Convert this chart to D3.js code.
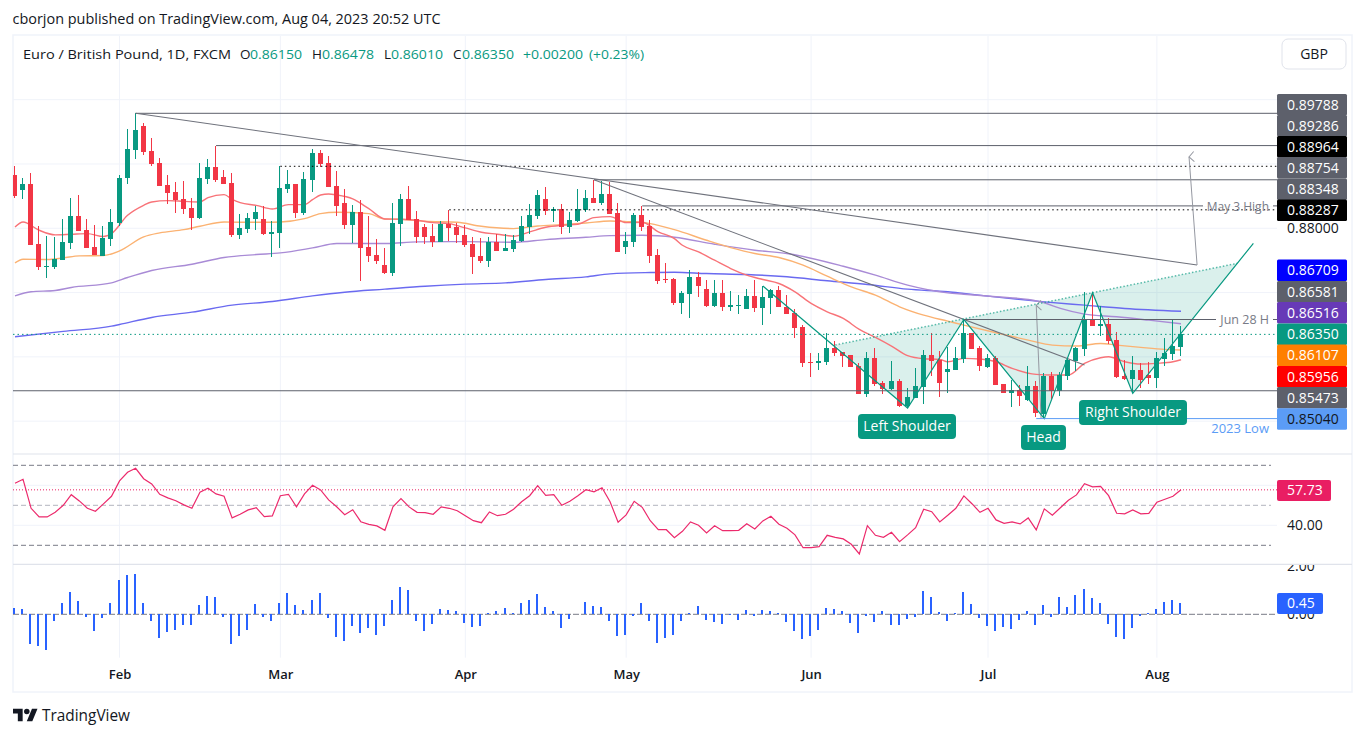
<!DOCTYPE html>
<html>
<head>
<meta charset="utf-8">
<style>
html, body { margin: 0; padding: 0; background: #fff; }
svg { display: block; }
text { font-family: "Open Sans", "Noto Sans", sans-serif; }
</style>
<script src="https://cdnjs.cloudflare.com/ajax/libs/d3/7.8.5/d3.min.js"></script>
</head>
<body>
<svg id="chart" width="1365" height="737"></svg>
<script>
// daily EUR/GBP candles
const opens = [
0.88823,0.88590,0.88683,0.87752,0.87395,0.87395,0.87503,0.87767,0.88186,0.87969,
0.87705,0.87565,0.87829,0.88078,0.88777,0.89211,0.89584,0.89196,0.89009,0.88668,
0.88559,0.88450,0.88311,0.88155,0.88761,0.88947,0.88792,0.88699,0.87891,0.87985,
0.88140,0.88140,0.87912,0.87923,0.88606,0.88683,0.88233,0.88745,0.89165,0.89009,
0.88652,0.88388,0.88047,0.88249,0.87705,0.87581,0.87426,0.87301,0.88062,0.88450,
0.88140,0.88016,0.87876,0.87783,0.88062,0.88016,0.87891,0.87752,0.87565,0.87488,
0.87783,0.87643,0.87674,0.87798,0.88016,0.88186,0.88450,0.88264,0.88295,0.88016,
0.88109,0.88280,0.88466,0.88388,0.88528,0.88233,0.87705,0.87783,0.88202,0.88031,
0.87581,0.87208,0.87208,0.86836,0.86975,0.87239,0.87053,0.86789,0.86991,0.86774,
0.86789,0.86743,0.86944,0.86758,0.86913,0.87038,0.86774,0.86680,0.86463,0.85920,
0.85904,0.85920,0.86137,0.86075,0.86028,0.85857,0.85423,0.85982,0.85594,0.85500,
0.85625,0.85236,0.85361,0.85531,0.86028,0.85951,0.85764,0.85795,0.85966,0.86364,
0.86137,0.85842,0.85981,0.85578,0.85443,0.85485,0.85329,0.85547,0.85112,0.85702,
0.85469,0.85702,0.85935,0.86121,0.86587,0.86478,0.86509,0.86261,0.85702,0.85655,
0.85795,0.85717,0.85671,0.85966,0.86044,0.86150];
const highs = [
0.88963,0.88777,0.88854,0.88031,0.87876,0.87860,0.88140,0.88466,0.88513,0.88140,
0.88047,0.88031,0.88295,0.88823,0.89537,0.89788,0.89631,0.89398,0.89087,0.88823,
0.88714,0.88730,0.88466,0.89009,0.89072,0.89286,0.88901,0.88854,0.88218,0.88233,
0.88342,0.88342,0.88109,0.88964,0.88901,0.88683,0.88870,0.89227,0.89211,0.89118,
0.88885,0.88616,0.88357,0.88435,0.88186,0.87829,0.87690,0.88388,0.88528,0.88652,
0.88264,0.88062,0.88062,0.88109,0.88287,0.88078,0.88047,0.87860,0.87845,0.87860,
0.87907,0.87907,0.87891,0.88186,0.88373,0.88590,0.88637,0.88326,0.88373,0.88249,
0.88606,0.88590,0.88754,0.88730,0.88714,0.88388,0.87938,0.88233,0.88348,0.88124,
0.87674,0.87457,0.87224,0.87022,0.87348,0.87317,0.87193,0.87193,0.87193,0.87022,
0.86960,0.87053,0.87193,0.87100,0.87053,0.87100,0.86960,0.86743,0.86494,0.86059,
0.86059,0.86370,0.86246,0.86075,0.86028,0.85904,0.86075,0.86137,0.85625,0.85935,
0.85656,0.85516,0.85826,0.86106,0.86370,0.86090,0.86157,0.86147,0.86581,0.86364,
0.86168,0.86044,0.86012,0.85578,0.85640,0.85562,0.85857,0.85624,0.85743,0.85764,
0.85764,0.85981,0.86157,0.87006,0.86991,0.86789,0.86603,0.86385,0.85950,0.86012,
0.85904,0.85919,0.86075,0.86292,0.86581,0.86478];
const lows = [
0.88471,0.88450,0.87736,0.87348,0.87224,0.87363,0.87503,0.87674,0.87954,0.87690,
0.87581,0.87565,0.87721,0.88031,0.88683,0.89072,0.89134,0.88963,0.88652,0.88373,
0.88233,0.88218,0.87969,0.88140,0.88683,0.88714,0.88683,0.87860,0.87829,0.87923,
0.87969,0.87891,0.87550,0.87690,0.88544,0.88155,0.88202,0.88559,0.88947,0.88637,
0.88192,0.87985,0.87767,0.87177,0.87472,0.87441,0.87286,0.87255,0.87721,0.88124,
0.87767,0.87752,0.87705,0.87783,0.87798,0.87767,0.87705,0.87286,0.87457,0.87394,
0.87643,0.87643,0.87627,0.87783,0.87907,0.88140,0.88202,0.88093,0.87907,0.87922,
0.88093,0.88249,0.88388,0.88357,0.88218,0.87627,0.87596,0.87705,0.87954,0.87457,
0.87131,0.87146,0.86805,0.86665,0.86603,0.86929,0.86774,0.86774,0.86712,0.86712,
0.86665,0.86743,0.86696,0.86494,0.86665,0.86774,0.86665,0.86292,0.85842,0.85687,
0.85795,0.85873,0.86013,0.85842,0.85842,0.85423,0.85376,0.85547,0.85423,0.85485,
0.85221,0.85221,0.85361,0.85267,0.85702,0.85376,0.85443,0.85795,0.85909,0.86121,
0.85780,0.85826,0.85562,0.85438,0.85221,0.85236,0.85314,0.85065,0.85040,0.85345,
0.85391,0.85640,0.85780,0.86012,0.86478,0.86323,0.86199,0.85671,0.85640,0.85453,
0.85516,0.85578,0.85516,0.85857,0.85950,0.86010];
const closes = [
0.88497,0.88683,0.87736,0.87395,0.87410,0.87519,0.87783,0.88186,0.87954,0.87690,
0.87581,0.87845,0.88093,0.88787,0.89227,0.89522,0.89180,0.88994,0.88652,0.88544,
0.88435,0.88295,0.88155,0.88777,0.88947,0.88745,0.88683,0.87891,0.88000,0.88155,
0.88249,0.87907,0.87938,0.88621,0.88683,0.88233,0.88761,0.89165,0.88994,0.88637,
0.88342,0.88047,0.88249,0.87690,0.87565,0.87488,0.87301,0.88078,0.88450,0.88124,
0.87860,0.87860,0.87783,0.88062,0.88000,0.87891,0.87736,0.87550,0.87488,0.87783,
0.87643,0.87690,0.87814,0.88031,0.88202,0.88513,0.88264,0.88295,0.88016,0.88124,
0.88295,0.88466,0.88388,0.88528,0.88218,0.87627,0.87798,0.88202,0.88016,0.87565,
0.87177,0.87193,0.86836,0.86991,0.87239,0.87100,0.86789,0.86991,0.86774,0.86805,
0.86805,0.86944,0.86758,0.86929,0.87038,0.86774,0.86665,0.86448,0.85904,0.85904,
0.85935,0.86137,0.86059,0.86013,0.85842,0.85423,0.85982,0.85578,0.85500,0.85625,
0.85236,0.85376,0.85547,0.86028,0.85935,0.85594,0.85811,0.85981,0.86364,0.86121,
0.85857,0.85981,0.85562,0.85438,0.85479,0.85391,0.85547,0.85127,0.85702,0.85469,
0.85717,0.85950,0.86137,0.86587,0.86478,0.86509,0.86245,0.85686,0.85655,0.85795,
0.85640,0.85671,0.85981,0.86059,0.86168,0.86350];

// moving averages, read at the bars listed beside them
const redBars = [0,1,3,5,7,9,11,12,14,16,17,19,21,23,24,26,27,28,30,32,34,36,37,38,39,40,42,44,46,48,50,52,54,56,58,60,62,64,66,68,70,72,74,76,78,80,82,83,85,87,89,91,93,95,97,99,101,103,105,107,109,111,113,115,116,118,120,122,124,127,129,131,133,135,136,138,140,142,144,145];
const redMa = [0.88021,0.88098,0.87969,0.87897,0.87907,0.87917,0.87871,0.87917,0.88202,0.88357,0.88409,0.88430,0.88419,0.88409,0.88476,0.88523,0.88450,0.88399,0.88357,0.88300,0.88368,0.88368,0.88445,0.88518,0.88533,0.88518,0.88456,0.88305,0.88145,0.88140,0.88124,0.88088,0.88073,0.88005,0.87938,0.87907,0.87876,0.87943,0.88016,0.88047,0.88062,0.88166,0.88181,0.88088,0.88093,0.87943,0.87840,0.87736,0.87633,0.87503,0.87374,0.87271,0.87203,0.87141,0.87012,0.86831,0.86701,0.86598,0.86427,0.86303,0.86168,0.86018,0.85971,0.85961,0.85924,0.85976,0.85966,0.85924,0.85821,0.85728,0.85717,0.85717,0.85899,0.85987,0.86002,0.85924,0.85888,0.85899,0.85924,0.85956];
const orangeBars = [0,1,4,6,8,11,13,16,18,21,23,26,28,31,33,36,38,40,44,46,48,51,55,58,62,65,68,71,74,76,79,82,86,89,92,95,98,101,104,107,110,113,116,118,122,126,129,132,135,137,140,143,145];
const orangeMa = [0.87462,0.87519,0.87514,0.87539,0.87571,0.87576,0.87648,0.87866,0.87928,0.87979,0.88031,0.88098,0.88093,0.88093,0.88098,0.88150,0.88228,0.88249,0.88228,0.88145,0.88140,0.88109,0.88093,0.88031,0.87995,0.88036,0.88057,0.88083,0.88114,0.88104,0.88073,0.87979,0.87814,0.87700,0.87607,0.87545,0.87426,0.87255,0.87089,0.86960,0.86779,0.86649,0.86556,0.86494,0.86375,0.86261,0.86183,0.86168,0.86209,0.86183,0.86147,0.86116,0.86107];
const purpleBars = [0,2,5,7,12,14,17,22,26,30,33,37,40,46,50,56,62,66,71,74,78,82,87,92,96,103,107,111,116,118,122,126,128,130,133,137,141,145];
const purpleMa = [0.86949,0.87012,0.87032,0.87079,0.87151,0.87234,0.87343,0.87441,0.87545,0.87591,0.87617,0.87695,0.87762,0.87762,0.87788,0.87793,0.87783,0.87824,0.87860,0.87886,0.87891,0.87860,0.87752,0.87659,0.87607,0.87410,0.87271,0.87115,0.86996,0.86975,0.86934,0.86892,0.86841,0.86753,0.86665,0.86623,0.86571,0.86516];
const blueBars = [0,6,12,13,17,22,27,32,37,41,46,51,56,61,66,71,74,79,82,86,91,96,101,106,111,116,118,123,128,133,138,145];
const blueMa = [0.86312,0.86396,0.86478,0.86504,0.86613,0.86695,0.86804,0.86861,0.86949,0.87006,0.87053,0.87099,0.87131,0.87151,0.87203,0.87244,0.87291,0.87312,0.87317,0.87296,0.87281,0.87245,0.87183,0.87126,0.87053,0.87012,0.86986,0.86918,0.86856,0.86804,0.86753,0.86709];

const rsi = [
61.0,63.0,48.5,44.2,44.2,46.5,50.0,55.3,52.2,48.5,47.0,50.7,54.5,62.2,66.5,68.5,63.3,60.7,55.5,53.7,
52.3,50.2,48.5,56.5,58.5,55.7,54.5,43.7,45.5,47.7,48.8,44.3,44.7,54.8,55.5,49.2,55.7,60.0,57.7,52.7,
49.3,45.3,47.8,41.8,40.5,39.7,37.5,49.2,53.3,49.2,46.5,46.3,45.5,49.2,48.5,47.3,44.8,42.3,41.3,46.7,
44.8,45.5,48.0,51.8,54.8,59.8,55.0,55.3,50.0,52.0,54.8,57.8,56.7,58.8,51.8,41.5,45.2,52.0,49.0,42.3,
37.8,37.8,33.8,37.0,41.7,40.0,36.2,39.8,37.3,37.3,37.5,40.8,38.2,42.2,44.5,40.5,38.5,35.2,28.8,28.8,
29.3,35.0,34.0,33.2,30.5,25.7,39.8,35.0,34.0,36.5,31.8,35.2,38.8,48.0,46.8,41.7,45.0,48.5,54.7,50.8,
46.5,48.5,42.7,41.0,41.7,40.7,43.7,37.7,48.2,45.0,48.8,52.5,55.2,60.8,59.2,59.5,54.8,46.0,45.7,47.7,
45.7,46.0,51.5,53.0,54.5,57.73];
const hist = [
0.26,0.22,-1.23,-1.31,-1.48,-0.28,0.47,0.92,0.55,-0.11,-0.69,-0.15,0.47,1.42,1.63,1.67,0.47,-0.28,-0.98,-0.73,
-0.65,-0.44,-0.44,0.39,0.76,0.72,-0.11,-1.23,-0.90,-0.65,0.43,-0.11,-0.28,0.47,0.88,0.39,0.18,0.59,0.88,-0.15,
-0.94,-1.10,-0.48,-0.77,-0.57,-0.86,-0.48,0.59,1.13,1.01,-0.28,-0.69,-0.40,0.22,0.18,0.14,-0.36,-0.52,-0.48,0.06,
0.14,0.26,0.06,0.47,0.59,0.84,0.30,0.14,-0.57,-0.19,0.01,0.51,0.34,0.30,-0.28,-0.90,-0.86,-0.07,0.47,-0.28,
-1.19,-0.98,-0.86,-0.28,0.06,0.34,-0.23,-0.32,-0.40,-0.03,-0.23,0.18,-0.07,0.18,0.14,0.06,-0.32,-0.69,-1.02,-0.90,
-0.65,0.26,0.22,0.14,-0.36,-0.77,-0.07,-0.32,0.14,-0.44,-0.44,-0.19,-0.11,0.97,0.72,0.10,-0.28,0.06,0.92,0.43,
-0.15,-0.48,-0.69,-0.52,-0.61,-0.23,0.14,-0.44,0.39,-0.11,0.72,0.30,0.80,1.05,0.68,0.47,-0.40,-0.94,-1.02,-0.57,
-0.07,0.06,0.22,0.51,0.59,0.45];

const monthLabels = ["Feb","Mar","Apr","May","Jun","Jul","Aug"];
const monthBars = [13,33,56,76,99,121,142];
const priceGrid = [0.85,0.86,0.87,0.88,0.89,0.90];

// right-hand price tags
const tagValues = [0.89788,0.89286,0.88964,0.88754,0.88348,0.88287,0.86709,0.86581,0.86516,0.86350,0.86107,0.85956,0.85473,0.85040];
const tagFills = ["#5d606b","#5d606b","#000000","#5d606b","#5d606b","#000000","#0000ff","#5d606b","#673ab7","#089981","#ff7f00","#ff0000","#5d606b","#5b9cf6"];
const tagCentres = [104.7,125.7,146.7,167.7,189.3,210.3,270.3,291.7,312.7,334.3,355.3,376.7,397.7,419];

// drawn levels: value, bar it starts on, colour, dash
const levelValues = [0.89788,0.89286,0.88964,0.88754,0.88348,0.88287,0.85473];
const levelStarts = [15,25,33,72,78,54,-1];
const levelColors = ["#5d606b","#5d606b","#000","#5d606b","#5d606b","#000","#5d606b"];
const levelDashes = [null,null,"1.5,3",null,null,"1.5,3",null];

// head and shoulders drawing, bar numbers and prices
const patternBars = [93,111,118,128,134,139,154];
const patternPrices = [0.87102,0.85205,0.86581,0.85040,0.86998,0.85433,0.87766];
const neckBars = [102,152];
const neckPrices = [0.86185,0.87455];
const trendBars = [[15,147],[72,133]];
const trendPrices = [[0.89788,0.87429],[0.88754,0.85874]];
const arrowBars = [[127.6,127],[147,146]];
const arrowPrices = [[0.85040,0.86800],[0.87429,0.89110]];

const svg = d3.select("#chart");
const left = 13, axisX = 1277, right = 1352;

const x = d3.scaleLinear().domain([0,145]).range([15,1181]);
const y = d3.scaleLinear().domain([0.8504,0.89788]).range([418.6,113.3]);
const yRsi = d3.scaleLinear().domain([40,70]).range([525.3,465.3]);
const yHist = d3.scaleLinear().domain([0,2]).range([614.3,566]);

svg.append("defs").append("clipPath").attr("id","plot")
    .append("rect").attr("x",left).attr("y",36).attr("width",axisX-left).attr("height",621.7);
svg.select("defs").append("clipPath").attr("id","histAxis")
    .append("rect").attr("x",axisX).attr("y",565).attr("width",75).attr("height",90);
svg.select("defs").append("marker").attr("id","chevron")
    .attr("viewBox","0 0 12 12").attr("refX",6).attr("refY",1).attr("markerWidth",12).attr("markerHeight",12)
    .attr("markerUnits","userSpaceOnUse").attr("orient","auto-start-reverse")
    .append("path").attr("d","M1,6 L6,1 L11,6").attr("fill","none").attr("stroke","#9598a1").attr("stroke-width",1);

// header text
svg.append("text").attr("x",12.5).attr("y",24).attr("font-size",14).attr("fill","#131722")
    .attr("textLength",428).attr("lengthAdjust","spacingAndGlyphs")
    .text("cborjon published on TradingView.com, Aug 04, 2023 20:52 UTC");

// frame and grid
const grid = svg.append("g").attr("stroke","#f0f3fa").attr("fill","none");
grid.append("rect").attr("x",left).attr("y",35).attr("width",right-left).attr("height",657).attr("stroke-width",1.5);
grid.selectAll("line.v").data(monthBars).join("line").attr("class","v")
    .attr("x1",d => x(d)).attr("x2",d => x(d)).attr("y1",36).attr("y2",657.7);
grid.selectAll("line.h").data(priceGrid).join("line").attr("class","h")
    .attr("x1",left).attr("x2",axisX).attr("y1",d => y(d)).attr("y2",d => y(d));
grid.selectAll("line.r").data([40,60]).join("line").attr("class","r")
    .attr("x1",left).attr("x2",axisX).attr("y1",d => yRsi(d)).attr("y2",d => yRsi(d));
svg.selectAll("line.pane").data([454,564.3]).join("line").attr("class","pane")
    .attr("x1",left).attr("x2",right).attr("y1",d => d).attr("y2",d => d)
    .attr("stroke","#e0e3eb").attr("stroke-width",1.2);

const plot = svg.append("g").attr("clip-path","url(#plot)");

// shaded pattern area between the neckline and the legs
const line = d3.line();
const legs = patternBars.map((b,i) => [x(b),y(patternPrices[i])]);
const areaPts = [[x(neckBars[0]),y(neckPrices[0])],...legs.slice(1,6),[x(neckBars[1]),y(neckPrices[1])]];
plot.append("path").attr("d",line(areaPts)+"Z").attr("fill","#089981").attr("fill-opacity",0.15);

// moving averages
const maLine = (bars,vals,color) => plot.append("path")
    .attr("d",d3.line().x(d => x(d[0])).y(d => y(d[1])).curve(d3.curveMonotoneX)(bars.map((b,i) => [b,vals[i]])))
    .attr("fill","none").attr("stroke",color).attr("stroke-width",1.4);
maLine(blueBars,blueMa,"#6a6af0");
maLine(purpleBars,purpleMa,"#a98bd6");
maLine(orangeBars,orangeMa,"#fbb272");
maLine(redBars,redMa,"#f87378");

// candles
const candle = plot.append("g").attr("shape-rendering","crispEdges");
const bars = d3.range(opens.length);
const col = i => closes[i] >= opens[i] ? "#089981" : "#f23645";
candle.selectAll("rect.wick").data(bars).join("rect").attr("class","wick")
    .attr("x",i => Math.floor(x(i)-2.5)+2).attr("width",1)
    .attr("y",i => y(highs[i])).attr("height",i => y(lows[i])-y(highs[i]))
    .attr("fill",col);
candle.selectAll("rect.body").data(bars).join("rect").attr("class","body")
    .attr("x",i => Math.floor(x(i)-2.5)).attr("width",5)
    .attr("y",i => y(Math.max(opens[i],closes[i])))
    .attr("height",i => Math.max(1,Math.abs(y(opens[i])-y(closes[i]))))
    .attr("fill",col);

// levels
plot.selectAll("line.level").data(levelValues).join("line").attr("class","level")
    .attr("x1",(d,i) => x(levelStarts[i])).attr("x2",axisX)
    .attr("y1",d => y(d)).attr("y2",d => y(d))
    .attr("stroke",(d,i) => levelColors[i]).attr("stroke-dasharray",(d,i) => levelDashes[i]);

// last price
plot.append("line").attr("x1",left).attr("x2",axisX).attr("y1",y(closes[145])).attr("y2",y(closes[145]))
    .attr("stroke","#089981").attr("stroke-dasharray","1.5,3");

// sloped trend lines and arrows
trendBars.forEach((b,i) => {
    plot.append("path").attr("d",line([[x(b[0]),y(trendPrices[i][0])],[x(b[1]),y(trendPrices[i][1])]]))
        .attr("stroke","#6f727c").attr("stroke-width",1.1).attr("fill","none");
});
arrowBars.forEach((b,i) => {
    plot.append("path").attr("d",line([[x(b[0]),y(arrowPrices[i][0])],[x(b[1]),y(arrowPrices[i][1])]]))
        .attr("stroke","#9598a1").attr("stroke-width",1).attr("fill","none").attr("marker-end","url(#chevron)");
});

// pattern legs and neckline
plot.append("path").attr("d",line(legs)).attr("fill","none").attr("stroke","#089981").attr("stroke-width",1.2);
plot.append("path").attr("d",line(neckBars.map((b,i) => [x(b),y(neckPrices[i])])))
    .attr("fill","none").attr("stroke","#089981").attr("stroke-opacity",0.65).attr("stroke-dasharray","1.5,2").attr("stroke-width",1.5);

// named levels that stop at their text
const namedLine = (barStart,value,stopX,color) => {
    plot.append("line").attr("x1",x(barStart)).attr("x2",stopX).attr("y1",y(value)).attr("y2",y(value)).attr("stroke",color);
};
namedLine(118,0.86581,1216,"#5d606b");
plot.append("line").attr("x1",1273).attr("x2",axisX).attr("y1",y(0.86581)).attr("y2",y(0.86581)).attr("stroke","#5d606b");
namedLine(127,0.85040,axisX,"#5b9cf6");

const note = (txt,ty,color,size) => svg.append("text").attr("x",1269).attr("y",ty).attr("dy","0.35em")
    .attr("text-anchor","end").attr("font-size",size).attr("fill",color).text(txt);
svg.append("rect").attr("x",1203).attr("y",y(0.88348)-1).attr("width",70).attr("height",2).attr("fill","#fff");
note("May 3 High",206.5,"#787b86",12);
note("Jun 28 H",y(0.86581),"#787b86",12.5);
note("2023 Low",428,"#5b9cf6",13);

// pattern captions
const captions = [["Left Shoulder",858,414,98],["Right Shoulder",1079,400,108],["Head",1021,425,45]];
captions.forEach(c => {
    svg.append("rect").attr("x",c[1]).attr("y",c[2]).attr("width",c[3]).attr("height",25).attr("rx",4).attr("fill","#089981");
    svg.append("text").attr("x",c[1]+c[3]/2).attr("y",c[2]+12.5).attr("dy","0.35em").attr("text-anchor","middle")
        .attr("font-size",14).attr("fill","#fff").text(c[0]);
});

// legend row
const legend = [["Euro / British Pound, 1D, FXCM",23,"#131722",208],["O",240,"#131722"],["0.86150",250,"#089981",52],["H",312,"#131722"],["0.86478",322,"#089981",52],
    ["L",384,"#131722"],["0.86010",391,"#089981",52],["C",453,"#131722"],["0.86350",462,"#089981",52],["+0.00200",523,"#089981",60],["(+0.23%)",589,"#089981",55]];
legend.forEach(l => {
    const t = svg.append("text").attr("x",l[1]).attr("y",59).attr("font-size",13.5).attr("fill",l[2]).text(l[0]);
    if (l[3]) t.attr("textLength",l[3]).attr("lengthAdjust","spacingAndGlyphs");
});

// GBP button
svg.append("rect").attr("x",1282).attr("y",39).attr("width",64).attr("height",30).attr("rx",6).attr("fill","#fff").attr("stroke","#e0e3eb");
svg.append("text").attr("x",1314).attr("y",54).attr("dy","0.35em").attr("text-anchor","middle").attr("font-size",14).attr("fill","#131722").text("GBP");

// RSI pane
const rsiGuides = [[70,"#787b86"],[50,"#b2b5be"],[30,"#787b86"]];
plot.selectAll("line.guide").data(rsiGuides).join("line").attr("class","guide")
    .attr("x1",left).attr("x2",axisX-6).attr("y1",d => yRsi(d[0])).attr("y2",d => yRsi(d[0]))
    .attr("stroke",d => d[1]).attr("stroke-dasharray","5,3");
plot.append("line").attr("x1",left).attr("x2",axisX).attr("y1",yRsi(57.73)).attr("y2",yRsi(57.73))
    .attr("stroke","#e91e63").attr("stroke-dasharray","1,2");
plot.append("path").attr("d",d3.line().x((d,i) => x(i)).y(d => yRsi(d))(rsi))
    .attr("fill","none").attr("stroke","#ec2a6c").attr("stroke-width",1.2);

// histogram pane
plot.append("line").attr("x1",left).attr("x2",axisX).attr("y1",yHist(0)).attr("y2",yHist(0))
    .attr("stroke","#787b86").attr("stroke-dasharray","6,2");
plot.append("g").attr("shape-rendering","crispEdges").selectAll("rect").data(hist).join("rect")
    .attr("x",(d,i) => Math.floor(x(i)-1.5)).attr("width",2)
    .attr("y",d => Math.min(yHist(d),yHist(0))).attr("height",d => Math.abs(yHist(d)-yHist(0)))
    .attr("fill","#2962ff");

// axes
const tickFont = g => g.call(s => s.select(".domain").remove())
    .selectAll("text").attr("font-family",'"Open Sans", sans-serif').attr("font-size",14).attr("fill","#131722");
svg.append("g").attr("transform",`translate(0,657)`)
    .call(d3.axisBottom(x).tickValues(monthBars).tickSize(0).tickPadding(13).tickFormat((d,i) => monthLabels[i]))
    .call(tickFont).selectAll("text").attr("font-weight",600).attr("font-size",13);
svg.append("g").attr("transform",`translate(${axisX},0)`)
    .call(d3.axisRight(y).tickValues([0.88]).tickSize(0).tickPadding(10).tickFormat(d3.format(".5f")))
    .call(tickFont);
svg.append("g").attr("transform",`translate(${axisX},0)`)
    .call(d3.axisRight(yRsi).tickValues([40]).tickSize(0).tickPadding(10).tickFormat(d3.format(".2f")))
    .call(tickFont);
svg.append("g").attr("clip-path","url(#histAxis)").append("g").attr("transform",`translate(${axisX},0)`)
    .call(d3.axisRight(yHist).tickValues([0,2]).tickSize(0).tickPadding(10).tickFormat(d3.format(".2f")))
    .call(tickFont);

// price tags
const tags = svg.append("g");
tags.selectAll("rect").data(tagValues).join("rect")
    .attr("x",axisX).attr("width",70).attr("y",(d,i) => tagCentres[i]-10.7).attr("height",21.4).attr("rx",1.5)
    .attr("fill",(d,i) => tagFills[i]);
tags.selectAll("text").data(tagValues).join("text")
    .attr("x",axisX+10).attr("y",(d,i) => tagCentres[i]).attr("dy","0.35em")
    .attr("font-size",14).attr("fill",d => d === 0.8504 ? "#131722" : "#fff")
    .text(d => d3.format(".5f")(d));

svg.append("rect").attr("x",axisX).attr("y",480).attr("width",54).attr("height",21).attr("rx",2).attr("fill","#e91e63");
svg.append("text").attr("x",axisX+10).attr("y",490.5).attr("dy","0.35em").attr("font-size",14).attr("fill","#fff").text("57.73");
svg.append("rect").attr("x",axisX).attr("y",593).attr("width",46).attr("height",21).attr("rx",2).attr("fill","#2962ff");
svg.append("text").attr("x",axisX+10).attr("y",603.5).attr("dy","0.35em").attr("font-size",14).attr("fill","#fff").text("0.45");

// footer logo and wordmark
const logo = svg.append("g").attr("transform","translate(13,706) scale(0.69)").attr("fill","#131722");
logo.append("path").attr("d","M14 22H7V11H0V4h14v18zM28 22h-8l7.5-18h8L28 22z");
logo.append("circle").attr("cx",20).attr("cy",8).attr("r",4);
svg.append("text").attr("x",42).attr("y",721).attr("font-size",15.5).attr("fill","#131722")
    .attr("textLength",88).attr("lengthAdjust","spacingAndGlyphs").text("TradingView");
</script>
</body>
</html>
